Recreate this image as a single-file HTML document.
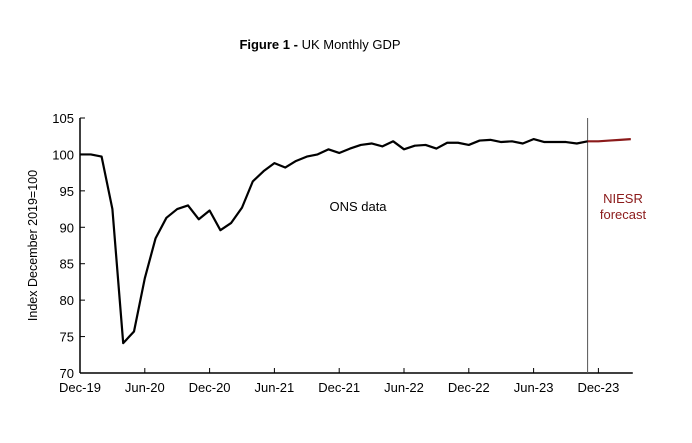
<!DOCTYPE html>
<html><head><meta charset="utf-8"><style>
body{margin:0;background:#fff;width:692px;height:438px;overflow:hidden;font-family:"Liberation Sans",sans-serif}
svg text{font-family:"Liberation Sans",sans-serif}
</style></head><body>
<svg id="chart" width="692" height="438" xmlns="http://www.w3.org/2000/svg">
<text x="320" y="49" text-anchor="middle" font-size="13" fill="#000"><tspan font-weight="bold">Figure 1 - </tspan>UK Monthly GDP</text>
<g id="axes"></g>
<g id="marks"></g>
</svg>
<script>
const onsValues=[100,100,99.7,92.5,74.1,75.7,83,88.5,91.3,92.5,93,91.1,92.3,89.6,90.6,92.7,96.3,97.7,98.8,98.2,99.1,99.7,100,100.7,100.2,100.8,101.3,101.5,101.1,101.8,100.7,101.2,101.3,100.8,101.6,101.6,101.3,101.9,102,101.7,101.8,101.5,102.1,101.7,101.7,101.7,101.5,101.8];
const forecastValues=[101.8,101.8,101.9,102.0,102.1];
const forecastStart=47;
const yTicks=[70,75,80,85,90,95,100,105];
const xTickLabels=["Dec-19","Jun-20","Dec-20","Jun-21","Dec-21","Jun-22","Dec-22","Jun-23","Dec-23"];
const ns="http://www.w3.org/2000/svg";
const X0=80,MW=10.8,Y0=373,PX=7.286;
const xs=i=>X0+i*MW, ys=v=>Y0-(v-70)*PX;
const axes=document.getElementById('axes'),marks=document.getElementById('marks');
function mk(tag,attrs,parent,text){const e=document.createElementNS(ns,tag);for(const k in attrs)e.setAttribute(k,attrs[k]);if(text!=null)e.textContent=text;parent.appendChild(e);return e;}
let e=mk('line',{x1:X0,y1:ys(105),x2:X0,y2:Y0,stroke:'#000','stroke-width':1.5},axes);


e=mk('line',{x1:X0,y1:Y0,x2:xs(51)+2,y2:Y0,stroke:'#000','stroke-width':1.5},axes);


yTicks.forEach(v=>{
 e=mk('line',{x1:X0,y1:ys(v),x2:X0+5,y2:ys(v),stroke:'#000'},axes);
 
 
 e=mk('text',{x:X0-6,y:ys(v)+5,'text-anchor':'end','font-size':13},axes,String(v));
 
 
});
xTickLabels.forEach((l,i)=>{
 e=mk('line',{x1:xs(i*6),y1:Y0,x2:xs(i*6),y2:Y0-5,stroke:'#000'},axes);
 
 
 e=mk('text',{x:xs(i*6),y:Y0+19,'text-anchor':'middle','font-size':13},axes,l);
 
 
});
e=mk('text',{x:0,y:0,'text-anchor':'middle','font-size':12.5,transform:`translate(37,${(ys(105)+Y0)/2}) rotate(-90)`},axes,'Index December 2019=100');


e=mk('line',{x1:xs(forecastStart),y1:ys(105),x2:xs(forecastStart),y2:Y0,stroke:'#555','stroke-width':1},marks);


e=mk('polyline',{points:onsValues.map((v,i)=>xs(i)+','+ys(v)).join(' '),fill:'none',stroke:'#000','stroke-width':2.2,'stroke-linejoin':'round'},marks);


e=mk('polyline',{points:forecastValues.map((v,i)=>xs(forecastStart+i)+','+ys(v)).join(' '),fill:'none',stroke:'#8b1a1a','stroke-width':2.2},marks);


e=mk('text',{x:358,y:211,'text-anchor':'middle','font-size':13},marks,'ONS data');


e=mk('text',{x:623,y:203,'text-anchor':'middle','font-size':13,fill:'#8b1a1a'},marks,'NIESR');


e=mk('text',{x:623,y:219,'text-anchor':'middle','font-size':13,fill:'#8b1a1a'},marks,'forecast');


</script>
</body></html>
